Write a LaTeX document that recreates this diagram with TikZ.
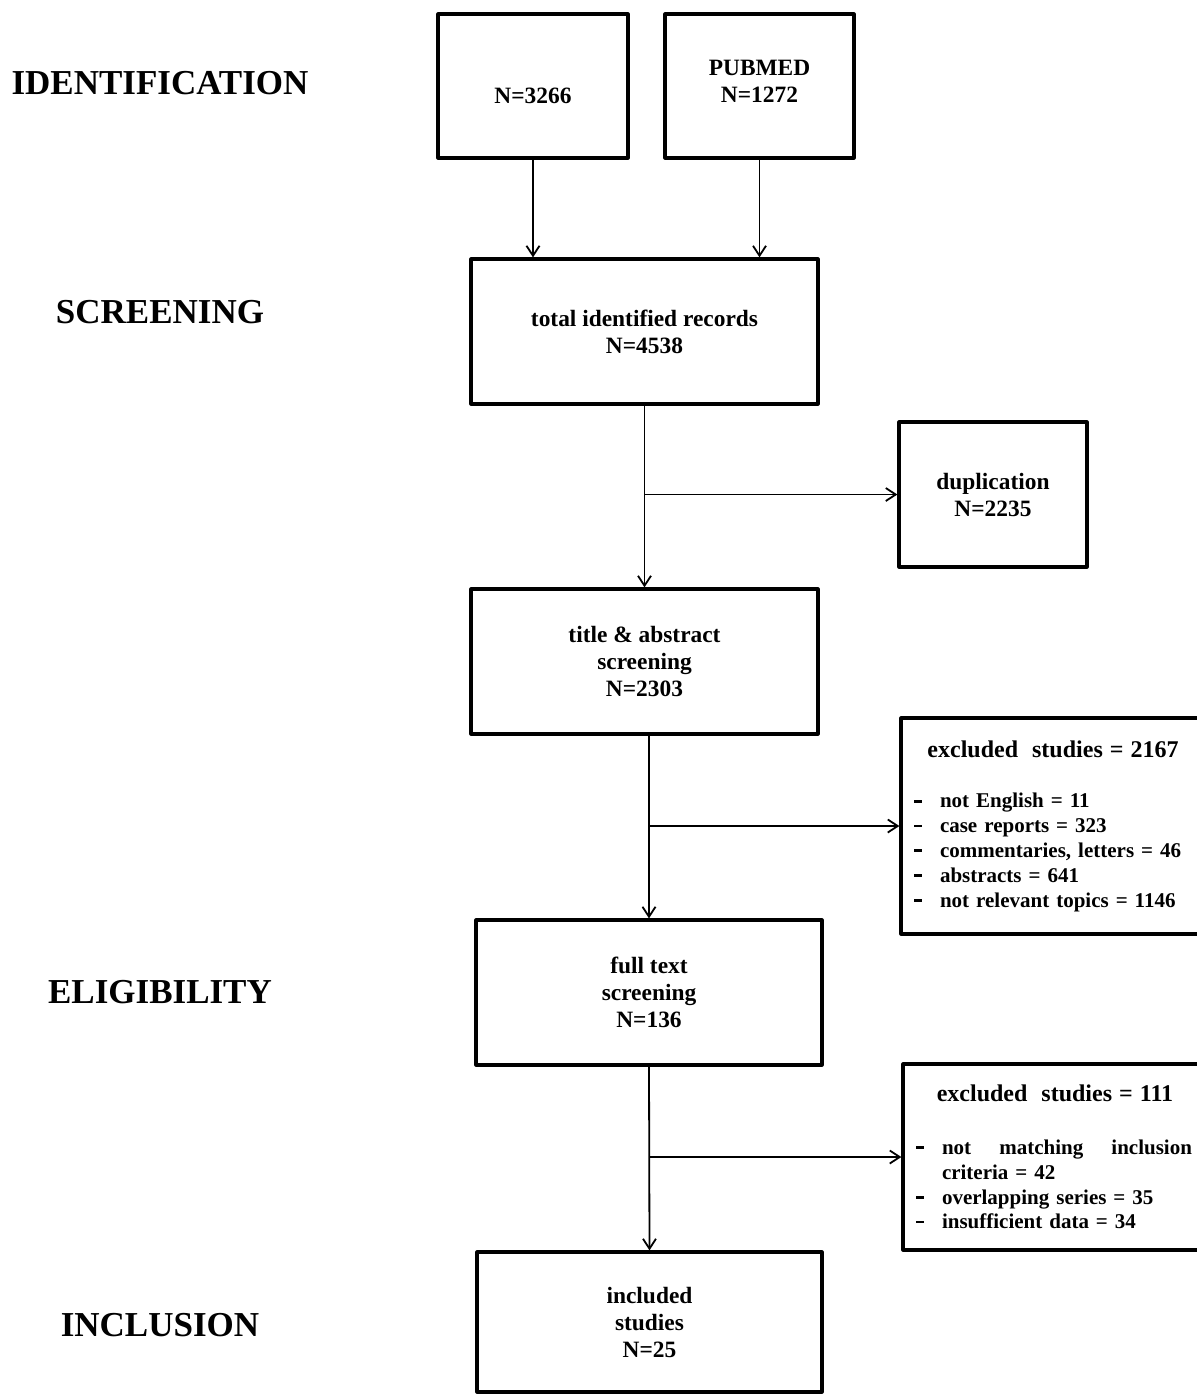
\documentclass[tikz,border=0pt]{standalone}
\usepackage{fontspec}
\setmainfont{Liberation Serif}
\usetikzlibrary{arrows.meta}

\newcommand{\exitem}{\makebox[13pt][l]{\rule[2.7pt]{4pt}{1.4pt}}}

\begin{document}
\begin{tikzpicture}[x=0.5pt,y=-0.5pt,
  stage/.style={font=\fontsize{17.5}{20}\selectfont\bfseries},
  box/.style={draw,line width=1.6pt,line join=round,inner sep=0pt,align=center,
    font=\fontsize{11.7}{13.5}\selectfont\bfseries},
  exclbox/.style={draw,line width=1.6pt,line join=round,inner xsep=6.5pt,inner ysep=0pt,
    text width=139pt,align=left,font=\fontsize{10.5}{12.4}\selectfont\bfseries},
  flow/.style={line width=0.9pt,-{Straight Barb[length=5pt,width=6.5pt]}}]
\useasboundingbox (0,0) rectangle (1197,1394);

% stages
\node[stage] (identification) at (160,83) {IDENTIFICATION};
\node[stage] (screening) at (160,312) {SCREENING};
\node[stage] (eligibility) at (160,992) {ELIGIBILITY};
\node[stage] (inclusion) at (160,1325) {INCLUSION};

% boxes
\node[box,minimum width=95pt,minimum height=72pt,text depth=5pt] (other) at (533,86) {\strut\\N=3266};
\node[box,minimum width=94.5pt,minimum height=72pt,text depth=5pt] (pubmed) at (759.5,86) {PUBMED\\N=1272};
\node[box,minimum width=173.5pt,minimum height=72.5pt] (total) at (644.5,331.5) {total identified records\\N=4538};
\node[box,minimum width=94pt,minimum height=72.5pt] (dup) at (993,494.5) {duplication\\N=2235};
\node[box,minimum width=173.5pt,minimum height=72.5pt] (title) at (644.5,661.5) {title \& abstract\\screening\\N=2303};
\node[box,minimum width=173pt,minimum height=72.5pt] (full) at (649,992.5) {full text\\screening\\N=136};
\node[box,minimum width=172.5pt,minimum height=70pt] (incl) at (649.5,1322) {included\\studies\\N=25};

\node[exclbox,minimum height=108pt] (excl1) at (1053,826) {%
  \makebox[\linewidth]{\fontsize{12}{14}\selectfont excluded\ \ studies = 2167}\\[13pt]
  \exitem not English = 11\\
  \exitem case reports = 323\\
  \exitem commentaries, letters = 46\\
  \exitem abstracts = 641\\
  \exitem not relevant topics = 1146};
\node[exclbox,minimum height=93pt] (excl2) at (1055,1157) {%
  \makebox[\linewidth]{\fontsize{12}{14}\selectfont excluded\ \ studies = 111}\\[14pt]
  \exitem\makebox[125pt][s]{not\hfill matching\hfill inclusion}\\
  \hspace*{13pt}criteria = 42\\
  \exitem overlapping series = 35\\
  \exitem insufficient data = 34};

% connectors
\coordinate (split1) at (total.south |- dup.west);
\coordinate (split2) at (full.north |- excl1.west);
\coordinate (split3) at (full.south |- excl2.west);

\draw[flow] (other.south) -- (other.south |- total.north);
\draw[flow] (pubmed.south) -- (pubmed.south |- total.north);
\draw[flow] (total.south) -- (title.north);
\draw[flow] (split1) -- (dup.west);
\draw[flow] (full.north |- title.south) -- (full.north);
\draw[flow] (split2) -- (excl1.west);
\draw[flow] (full.south) -- (incl.north);
\draw[flow] (split3) -- (excl2.west);
\end{tikzpicture}
\end{document}
